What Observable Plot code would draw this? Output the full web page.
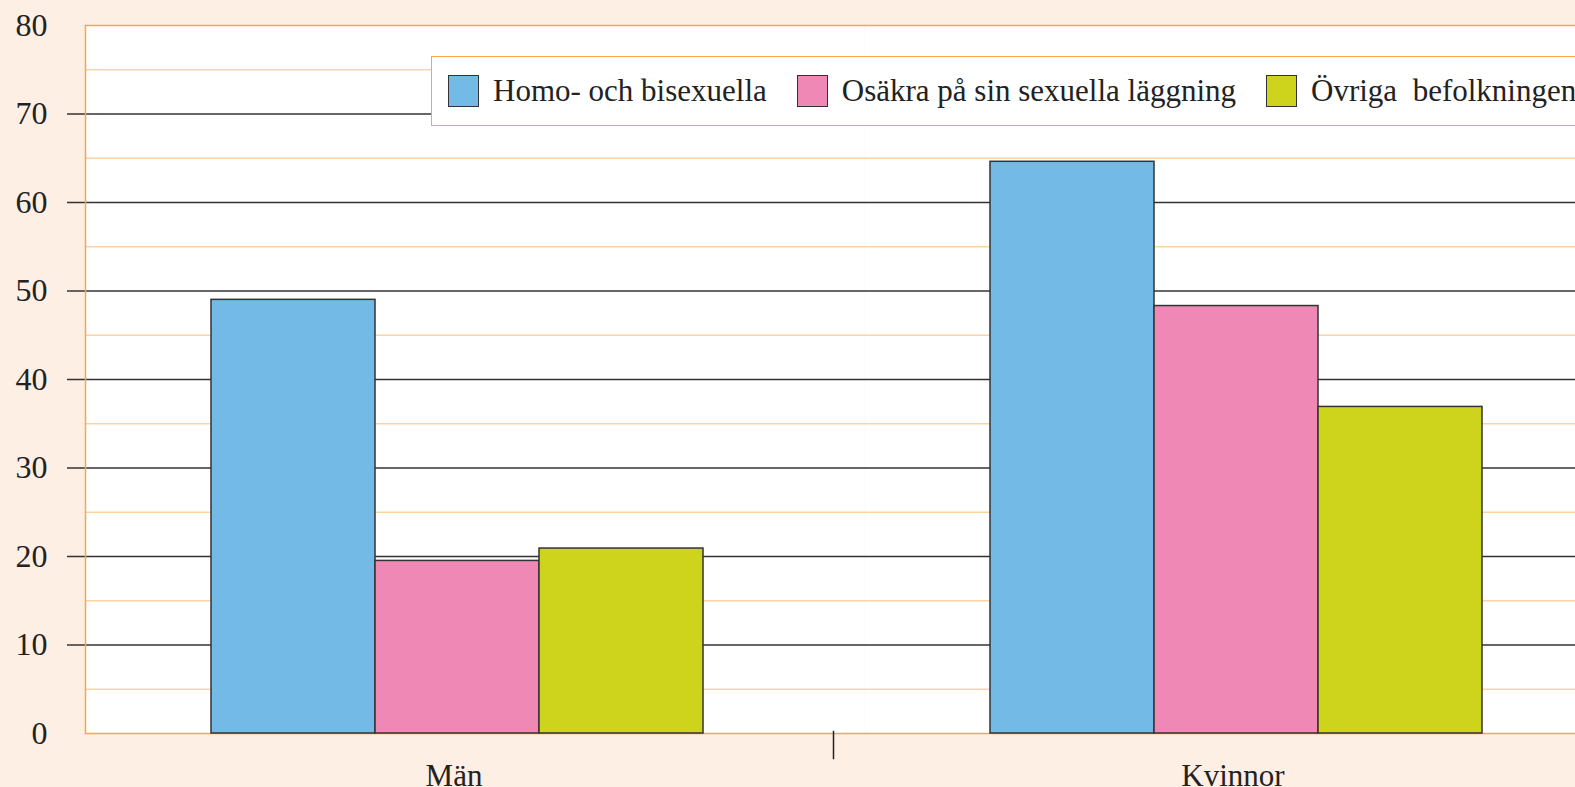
<!DOCTYPE html>
<html><head><meta charset="utf-8">
<script src="https://cdn.jsdelivr.net/npm/d3@7"></script>
<script src="https://cdn.jsdelivr.net/npm/@observablehq/plot@0.6"></script>
<style>
html,body{margin:0;padding:0;background:#FDEFE3;overflow:hidden;width:1575px;height:787px;}
#wrap{position:relative;width:1575px;height:787px;overflow:hidden;}
#legend{position:absolute;left:431px;top:56px;height:70px;right:-60px;box-sizing:border-box;background:#fff;border:1.5px solid #F9A54A;display:flex;align-items:center;padding-left:16px;font-family:"Liberation Serif",serif;font-size:31px;color:#222;white-space:pre;}
.sw{width:31px;height:32px;box-sizing:border-box;border:1.5px solid #333;margin-right:14px;flex:none}
.item{display:flex;align-items:center;margin-right:30px}
</style></head><body><div id="wrap"><div id="chart"></div><div id="legend"></div></div>
<script>
const categories = ["Män", "Kvinnor"];
const seriesNames = ["Homo- och bisexuella", "Osäkra på sin sexuella läggning", "Övriga  befolkningen"];
const homoValues = [49.0, 64.6];
const osakraValues = [19.5, 48.3];
const ovrigaValues = [20.9, 36.9];
const seriesColors = ["#73BBE6", "#F088B6", "#CED41C"];
const majorTicks = [0, 10, 20, 30, 40, 50, 60, 70, 80];
const innerTicks = [10, 20, 30, 40, 50, 60, 70];
const minorTicks = [5, 15, 25, 35, 45, 55, 65, 75];

const rows = [];
[homoValues, osakraValues, ovrigaValues].forEach((vals, s) =>
  categories.forEach((c, i) => rows.push({category: c, series: seriesNames[s], value: vals[i]})));

const orange = "#F9A54A";
const gridDark = "#333";
const chart = Plot.plot({
  width: 1575, height: 787,
  marginTop: 25, marginBottom: 54, marginLeft: 85, marginRight: -68,
  style: {background: "transparent", fontFamily: "Liberation Serif, serif", fontSize: "31px", color: "#222", overflow: "hidden"},
  fx: {domain: categories, padding: 0, axis: null, label: null},
  x: {domain: seriesNames, paddingInner: 0, paddingOuter: 0.875, align: 0.439, axis: null},
  y: {domain: [0, 80], axis: null, label: null},
  color: {domain: seriesNames, range: seriesColors},
  marks: [
    Plot.frame({fill: "white", stroke: "none"}),
    Plot.ruleY(minorTicks, {stroke: "#FDD3A4", strokeWidth: 1.5}),
    Plot.ruleY(innerTicks, {fx: innerTicks.map(() => categories[0]), stroke: gridDark, strokeWidth: 1.4, insetLeft: -18}),
    Plot.ruleY(innerTicks, {fx: innerTicks.map(() => categories[1]), stroke: gridDark, strokeWidth: 1.4}),
    Plot.ruleY([0, 80], {stroke: orange, strokeWidth: 1.5}),
    Plot.frame({anchor: "left", fx: categories[0], stroke: orange, strokeWidth: 1.5}),
    Plot.barY(rows, {fx: "category", x: "series", y: "value", fill: "series", stroke: "#333", strokeWidth: 1.5}),
    Plot.axisY(majorTicks, {tickSize: 0, tickPadding: 38, fontSize: 32, label: null}),
    Plot.text(categories, {fx: d => d, text: d => d, frameAnchor: "bottom", lineAnchor: "top", dy: 30, dx: -21, fontSize: 31, fill: "#222"}),
    Plot.frame({anchor: "left", fx: categories[1], stroke: "#222", strokeWidth: 1.5, insetTop: 706, insetBottom: -25, dx: -31})
  ]
});
document.getElementById("chart").append(chart);

const legend = document.getElementById("legend");
seriesNames.forEach((name, i) => {
  const item = document.createElement("div");
  item.className = "item";
  const sw = document.createElement("div");
  sw.className = "sw";
  sw.style.background = seriesColors[i];
  const t = document.createElement("span");
  t.textContent = name;
  item.append(sw, t);
  legend.append(item);
});
</script></body></html>
